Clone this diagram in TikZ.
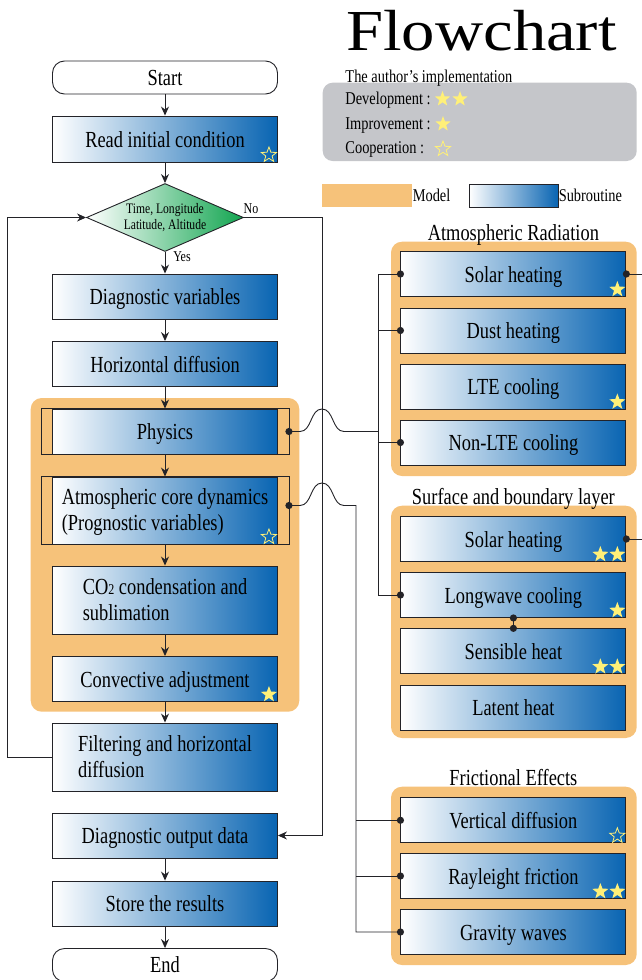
\documentclass[tikz,border=0pt]{standalone}
\usepackage{fontspec}
\setmainfont{Liberation Serif}[FakeStretch=0.8]
\newfontfamily\titlefont{Liberation Serif}[FakeStretch=1.15]
\usetikzlibrary{shapes.geometric, arrows.meta}

\definecolor{modelorange}{RGB}{246,194,122}
\definecolor{subblue}{RGB}{8,100,178}
\definecolor{declgreen}{RGB}{18,165,80}
\definecolor{legendgray}{RGB}{197,198,202}
\definecolor{staryellow}{RGB}{255,240,120}
\definecolor{linegray}{RGB}{35,35,40}

\begin{document}
\begin{tikzpicture}[x=1pt, y=-1pt, line width=0.9pt, draw=linegray,
    subbase/.style={draw=linegray, left color=white, right color=subblue, minimum width=225pt, minimum height=45pt, inner sep=0pt, align=center, font=\fontsize{23}{26}\selectfont},
    sub/.style={subbase, text height=18pt, text depth=1.8pt},
    term/.style={draw=linegray, rounded corners=12pt, fill=white, minimum width=225pt, minimum height=33pt, inner sep=0pt, text height=17pt, text depth=1.5pt, font=\fontsize{23}{26}\selectfont},
    decision/.style={diamond, aspect=2.3, draw=linegray, left color=white, right color=declgreen, minimum width=157pt, minimum height=68pt, inner sep=0pt, align=center, font=\fontsize{14.5}{16}\selectfont},
    panel/.style={fill=modelorange, rounded corners=11pt},
    ptitle/.style={anchor=base, inner sep=0pt, font=\fontsize{23}{26}\selectfont},
    legtext/.style={anchor=base west, inner sep=0pt, font=\fontsize{18}{20}\selectfont},
    fullstar/.style={star, star points=5, star point ratio=2.4, fill=staryellow, minimum size=17pt, inner sep=0pt},
    openstar/.style={star, star points=5, star point ratio=2.4, draw=staryellow, line width=0.8pt, minimum size=16pt, inner sep=0pt},
    arrow/.style={-{Stealth[length=9pt, width=8pt]}},
    dot/.style={fill=linegray}]
  \useasboundingbox (0,0) rectangle (642,980);

  % title and legend
  \node[anchor=base, inner sep=0pt, font=\titlefont\fontsize{58}{60}\selectfont] (title) at (481.5,50) {Flowchart};
  \fill[legendgray, rounded corners=10pt] (322.7,82.7) rectangle (636.7,161);
  \node[legtext] (impl) at (345,82.5) {The author's implementation};
  \node[legtext] (dev) at (345,104.3) {Development :};
  \node[legtext] (imp) at (345,129) {Improvement :};
  \node[legtext] (coop) at (345,153.3) {Cooperation :};
  \node[fullstar, minimum size=16pt] (devstar1) at (442.5,99) {};
  \node[fullstar, minimum size=16pt] (devstar2) at (460,99) {};
  \node[fullstar, minimum size=16pt] (impstar) at (443,124) {};
  \node[openstar] (coopstar) at (443,149) {};
  \node[fill=modelorange, minimum width=90pt, minimum height=23pt, inner sep=0pt] (modelkey) at (366.7,195.5) {};
  \node[legtext] (modeltxt) at (412.3,201.7) {Model};
  \node[subbase, minimum width=89pt, minimum height=23pt] (subkey) at (513.6,195.5) {};
  \node[legtext] (subtxt) at (558.3,201.7) {Subroutine};

  % model panels
  \fill[panel] (30.7,398) rectangle (299.3,711.7);
  \fill[panel] (391,241.7) rectangle (636.7,476);
  \fill[panel] (391,505.7) rectangle (636.7,738);
  \fill[panel] (391,786.7) rectangle (636.7,965);

  % main flow
  \node[term] (start) at (165,77.5) {Start};
  \node[sub, minimum height=46pt] (read) at (165,139) {Read initial condition};
  \node[decision] (dec) at (165,217.5) {Time, Longitude\\Latitude, Altitude};
  \node[sub] (dvar) at (165,296.5) {Diagnostic variables};
  \node[sub] (hdiff) at (165,364) {Horizontal diffusion};
  \node[sub] (phys) at (165,431.5) {Physics};
  \node[subbase, minimum height=67pt, align=left, text depth=1pt] (core) at (165,510.5) {Atmospheric core dynamics\\(Prognostic variables)};
  \node[subbase, minimum height=68pt, align=left] (co2) at (165,600) {CO{\fontsize{15}{15}\selectfont 2} condensation and\\sublimation};
  \node[sub] (conv) at (165,679) {Convective adjustment};
  \node[subbase, minimum height=68pt, align=left] (filt) at (165,757) {Filtering and horizontal\\diffusion};
  \node[sub] (dout) at (165,835.5) {Diagnostic output data};
  \node[sub] (store) at (165,903.5) {Store the results};
  \node[term] (end) at (165,965) {End};
  \draw ([xshift=-11pt]phys.north west) rectangle ([xshift=11pt]phys.south east);
  \draw ([xshift=-11pt]core.north west) rectangle ([xshift=11pt]core.south east);

  \node[inner sep=0pt, font=\fontsize{15}{16}\selectfont] (no) at (251,209) {No};
  \node[inner sep=0pt, font=\fontsize{15}{16}\selectfont] (yes) at (182,257) {Yes};

  \draw[arrow] (start) -- (read);
  \draw[arrow] (read) -- (dec);
  \draw[arrow] (dec) -- (dvar);
  \draw[arrow] (dvar) -- (hdiff);
  \draw[arrow] (hdiff) -- (phys);
  \draw[arrow] (phys) -- (core);
  \draw[arrow] (core) -- (co2);
  \draw[arrow] (co2) -- (conv);
  \draw[arrow] (conv) -- (filt);
  \draw[arrow] (dout) -- (store);
  \draw[arrow] (store) -- (end);
  \draw[arrow] (filt.west) -- ++(-45,0) |- (dec.west);
  \draw[arrow] (dec.east) -| ([xshift=44pt]dout.east) -- (dout.east);

  % Atmospheric Radiation
  \node[ptitle] (atitle) at (513.4,240.5) {Atmospheric Radiation};
  \node[sub] (asolar) at (513.4,274) {Solar heating};
  \node[sub] (adust) at (513.4,330.5) {Dust heating};
  \node[sub] (alte) at (513.4,386.5) {LTE cooling};
  \node[sub] (anlte) at (513.4,442.5) {Non-LTE cooling};

  % Surface and boundary layer
  \node[ptitle] (stitle) at (513.4,504.3) {Surface and boundary layer};
  \node[sub] (ssolar) at (513.4,539) {Solar heating};
  \node[sub] (longw) at (513.4,595) {Longwave cooling};
  \node[sub] (sens) at (513.4,651.3) {Sensible heat};
  \node[sub] (latent) at (513.4,707.5) {Latent heat};

  % Frictional Effects
  \node[ptitle] (ftitle) at (513.4,785.7) {Frictional Effects};
  \node[sub] (vdiff) at (513.4,820.3) {Vertical diffusion};
  \node[sub] (rayl) at (513.4,876) {Rayleight friction};
  \node[sub] (grav) at (513.4,932) {Gravity waves};

  % stars
  \foreach \b in {conv, asolar, alte, longw}
    \node[fullstar] (star-\b) at ([xshift=-9pt, yshift=7.5pt]\b.south east) {};
  \foreach \b in {ssolar, sens, rayl} {
    \node[fullstar] (star-\b) at ([xshift=-9pt, yshift=7.5pt]\b.south east) {};
    \node[fullstar] (startwo-\b) at ([xshift=-26pt, yshift=7.5pt]\b.south east) {};
  }
  \foreach \b in {read, core, vdiff}
    \node[openstar] (star-\b) at ([xshift=-9pt, yshift=7.5pt]\b.south east) {};

  % links to the model panels
  \coordinate (physdot) at ([xshift=11pt]phys.east);
  \coordinate (coredot) at ([xshift=11pt, yshift=5pt]core.east);
  \coordinate (abus) at (378,431.5);
  \coordinate (fbus) at (356,505.5);
  \draw (physdot) -- (300,431.5) .. controls (312,431.5) and (310,409) .. (322,409)
    .. controls (334,409) and (332,431.5) .. (344,431.5) -- (abus);
  \draw (asolar.west) -- (asolar.west -| abus) -- (longw.west -| abus) -- (longw.west);
  \draw (adust.west) -- (adust.west -| abus);
  \draw (anlte.west) -- (anlte.west -| abus);
  \draw (coredot) -- (300,505.5) .. controls (312,505.5) and (310,483) .. (322,483)
    .. controls (334,483) and (332,505.5) .. (344,505.5) -- (fbus) -- (fbus |- grav.west) -- (grav.west);
  \draw (vdiff.west) -- (vdiff.west -| fbus);
  \draw (rayl.west) -- (rayl.west -| fbus);
  \draw (asolar.east) -- ++(20,0);
  \draw (ssolar.east) -- ++(20,0);
  \draw (longw.south) -- (sens.north);
  \foreach \p in {physdot, coredot, asolar.west, adust.west, anlte.west, longw.west, asolar.east, ssolar.east, longw.south, sens.north, vdiff.west, rayl.west, grav.west}
    \fill[dot] (\p) circle[radius=3.6pt];
\end{tikzpicture}
\end{document}
